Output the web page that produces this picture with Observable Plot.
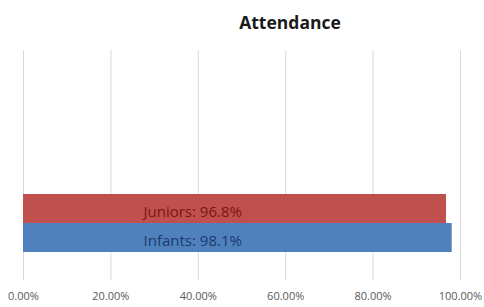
<!DOCTYPE html>
<html><head><meta charset="utf-8">
<script src="https://cdn.jsdelivr.net/npm/d3@7"></script>
<script src="https://cdn.jsdelivr.net/npm/@observablehq/plot@0.6"></script>
<style>
html,body{margin:0;padding:0;background:#fff;width:484px;height:307px;overflow:hidden;}
#title{height:40px;padding-top:10px;line-height:24px;text-align:center;font:bold 17.5px "Open Sans",sans-serif;color:#1a1a1a;padding-left:96px;box-sizing:border-box;}
</style></head>
<body>
<div id="title">Attendance</div>
<div id="chart"></div>
<script>
const series = ["Juniors", "Infants"];
const values = [0.968, 0.981];
const fills = ["#C0504D", "#4F81BD"];
const labelColors = ["#7a1512", "#1b3a70"];
const xTicks = [0, 0.2, 0.4, 0.6, 0.8, 1.0];

const data = series.map((s, i) => ({series: s, value: values[i], label: `${s}: ${(values[i]*100).toFixed(1)}%`}));

const W = 484, H = 267, mT = 10, mB = 27, mL = 23, mR = 24;
const innerH = H - mT - mB;

const chart = Plot.plot({
  width: W, height: H,
  marginTop: mT, marginBottom: mB, marginLeft: mL, marginRight: mR,
  style: {fontFamily: "Open Sans, sans-serif", background: "#fff", overflow: "visible"},
  x: {domain: [0, 1], ticks: xTicks, tickFormat: d3.format(".2%"), label: null},
  y: {domain: series, range: [mT + innerH/2, mT + innerH], paddingInner: 0, paddingOuter: 0.98, axis: null},
  color: {domain: series, range: fills},
  marks: [
    Plot.gridX(xTicks, {stroke: "#d9d9d9", strokeOpacity: 1, strokeWidth: 1}),
    Plot.axisX(xTicks, {tickFormat: d3.format(".2%"), tickSize: 0, tickPadding: 12, fontSize: 11, fill: "#595959", label: null}),
    Plot.barX(data, {x: "value", y: "series", fill: "series"}),
    Plot.text(data, {x: 0, y: "series", text: "label", textAnchor: "start", dx: 120, dy: 3, fontSize: 15, fill: (d) => labelColors[series.indexOf(d.series)]})
  ]
});
document.getElementById("chart").appendChild(chart);
</script>
</body></html>
